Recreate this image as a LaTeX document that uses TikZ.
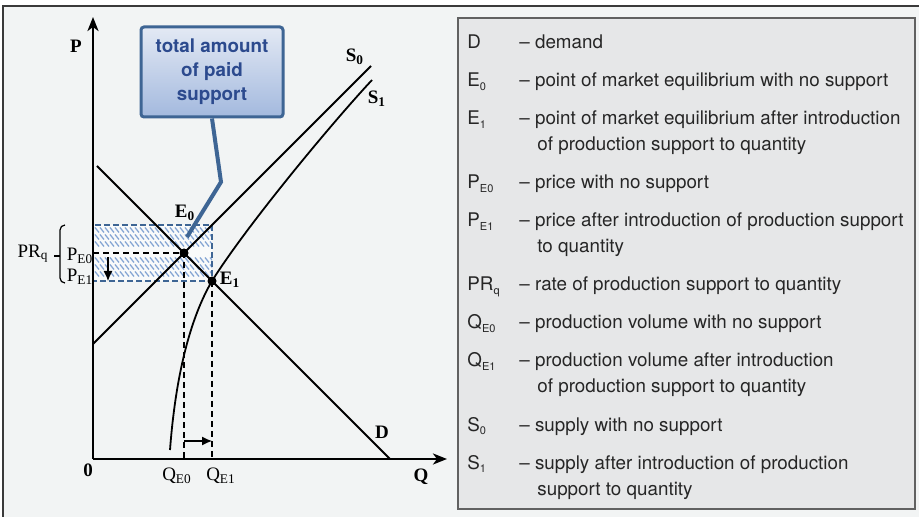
\documentclass[tikz,border=0pt]{standalone}
\usepackage{fontspec}
\setmainfont{Liberation Serif}
\newfontfamily\legfont{TeX Gyre Heros}
\usetikzlibrary{arrows.meta}
\definecolor{sbg}{HTML}{F2F4F4}
\definecolor{slegend}{HTML}{E6E7E8}
\definecolor{sframe}{HTML}{3A3A3A}
\definecolor{sblue}{HTML}{3E6594}
\definecolor{stext}{HTML}{2C4A8E}
\definecolor{shatch}{HTML}{86A6D4}
\definecolor{sboxtop}{HTML}{E3E9F4}
\definecolor{sboxbot}{HTML}{A3B9DE}
\newcommand{\lsub}[1]{\raisebox{-0.4ex}{\fontsize{5.5}{6}\selectfont #1}}
\tikzset{
  axisline/.style={line width=1.3pt, -{Stealth[length=7pt, width=5.5pt, inset=2pt]}},
  curveline/.style={line width=0.9pt},
  guide/.style={line width=0.7pt, dash pattern=on 3pt off 2pt},
  rate/.style={draw=sblue, line width=0.7pt, dash pattern=on 3pt off 1.5pt},
  hatch/.style={shatch, line width=0.65pt},
  eqdot/.style={circle, fill=black, inner sep=0pt, minimum size=4.5pt},
  glab/.style={font=\fontsize{9.5}{11}\selectfont, inner sep=0pt},
  gbold/.style={font=\fontsize{9.5}{11}\selectfont\bfseries, inner sep=0pt},
  shiftarr/.style={line width=0.6pt, -{Latex[length=5pt, width=4.5pt]}},
  leg/.style={font=\legfont\fontsize{9.4}{11}\selectfont, text=black!85,
              anchor=base west, inner sep=0pt},
  notebox/.style={draw=sblue, line width=1.5pt, rounded corners=1.5pt,
                  top color=sboxtop, bottom color=sboxbot,
                  minimum width=71pt, minimum height=45pt, align=center,
                  text=stext, font=\legfont\bfseries\fontsize{9.4}{12}\selectfont},
  pointer/.style={draw=sblue, line width=2pt},
}
\begin{document}
\begin{tikzpicture}[x=0.5pt, y=-0.5pt]
  \useasboundingbox (0,0) rectangle (919,517);
  \fill[sbg] (3,6) rectangle (919,517);
  \draw[sframe, line width=0.8pt] (3,517) -- (3,6) -- (919,6);

  % legend
  \draw[sframe!80, fill=slegend, line width=0.8pt] (458,18) rectangle (915,509);
  \node[leg] (kD) at (467,49) {D};
  \node[leg] (dD) at (519,49) {– demand};
  \node[leg] (kE0) at (467,87) {E\lsub{0}};
  \node[leg] (dE0) at (519,87) {– point of market equilibrium with no support};
  \node[leg] (kE1) at (467,125) {E\lsub{1}};
  \node[leg] (dE1) at (519,125) {– point of market equilibrium after introduction};
  \node[leg] (cE1) at (537,151) {of production support to quantity};
  \node[leg] (kPE0) at (467,189) {P\lsub{E0}};
  \node[leg] (dPE0) at (519,189) {– price with no support};
  \node[leg] (kPE1) at (467,227) {P\lsub{E1}};
  \node[leg] (dPE1) at (519,227) {– price after introduction of production support};
  \node[leg] (cPE1) at (537,253) {to quantity};
  \node[leg] (kPR) at (467,291) {PR\lsub{q}};
  \node[leg] (dPR) at (519,291) {– rate of production support to quantity};
  \node[leg] (kQE0) at (467,329) {Q\lsub{E0}};
  \node[leg] (dQE0) at (519,329) {– production volume with no support};
  \node[leg] (kQE1) at (467,367) {Q\lsub{E1}};
  \node[leg] (dQE1) at (519,367) {– production volume after introduction};
  \node[leg] (cQE1) at (537,393) {of production support to quantity};
  \node[leg] (kS0) at (467,431) {S\lsub{0}};
  \node[leg] (dS0) at (519,431) {– supply with no support};
  \node[leg] (kS1) at (467,469) {S\lsub{1}};
  \node[leg] (dS1) at (519,469) {– supply after introduction of production};
  \node[leg] (cS1) at (537,495) {support to quantity};

  % points of the graph
  \coordinate (O) at (93,459);
  \coordinate (Ptop) at (93,17);
  \coordinate (Qend) at (447,459);
  \coordinate (E0) at (184,253);
  \coordinate (E1) at (212,281);
  \coordinate (Dstart) at (97,166);
  \coordinate (Dend) at (390,459);
  \coordinate (S0start) at (93,344);
  \coordinate (S0end) at (371,66);
  \coordinate (S1start) at (170,450);
  \coordinate (S1end) at (372,80);
  \coordinate (Rtl) at (93,225);

  % support area
  \begin{scope}
    \clip (Rtl) rectangle (E1);
    \fill[white, opacity=0.55] (Rtl) rectangle (E1);
    \foreach \yy in {230,237,244,260,267,274}
      \foreach \xx in {95,100,...,210}
        \draw[hatch] (\xx,\yy-2.5) -- ++(4,5);
  \end{scope}
  \draw[rate] (Rtl) rectangle (E1);

  % guides
  \draw[guide] (O |- E0) -- (E0) -- (E0 |- O);
  \draw[guide] (E1) -- (E1 |- O);

  % curves
  \draw[curveline] (Dstart) -- (Dend);
  \draw[curveline] (S0start) -- (S0end);
  \draw[curveline] (S1start) .. controls (176,370) and (192,315) .. (E1)
    .. controls (245,228) and (330,125) .. (S1end);

  % axes
  \draw[axisline] (O) -- (Ptop);
  \draw[axisline] (O) -- (Qend);

  \node[eqdot] (e0dot) at (E0) {};
  \node[eqdot] (e1dot) at (E1) {};

  % shifts
  \coordinate (da1) at (108,257);
  \coordinate (da2) at (108,281);
  \draw[shiftarr] (da1) -- (da2);
  \coordinate (ra1) at (184,441);
  \coordinate (ra2) at (212,441);
  \draw[shiftarr] (ra1) -- (ra2);

  % bracket for PR_q
  \draw[line width=0.6pt, rounded corners=2.5pt] (65,225) -- (60,225) -- (60,283) -- (65,283);
  \draw[line width=0.6pt] (60,256) -- (54,256);

  % labels
  \node[gbold] (lP) at (76,46) {P};
  \node[gbold] (l0) at (88,470) {0};
  \node[gbold] (lQ) at (421,477) {Q};
  \node[gbold] (lD) at (382,432) {D};
  \node[gbold] (lS0) at (355,57) {S\textsubscript{0}};
  \node[gbold] (lS1) at (377,99) {S\textsubscript{1}};
  \node[gbold] (lE0) at (185,213) {E\textsubscript{0}};
  \node[gbold] (lE1) at (230,280) {E\textsubscript{1}};
  \node[glab] (lPR) at (33,254) {PR\textsubscript{q}};
  \node[glab] (lPE0) at (80,256) {P\textsubscript{E0}};
  \node[glab] (lPE1) at (80,277) {P\textsubscript{E1}};
  \node[glab] (lQE0) at (177,476) {Q\textsubscript{E0}};
  \node[glab] (lQE1) at (221,476) {Q\textsubscript{E1}};

  % callout
  \node[notebox] (note) at (212,72) {total amount\\of paid\\support};
  \coordinate (bend) at (221,182);
  \coordinate (tip) at (187,237);
  \draw[pointer] (note.south) -- (bend) -- (tip);
\end{tikzpicture}
\end{document}
